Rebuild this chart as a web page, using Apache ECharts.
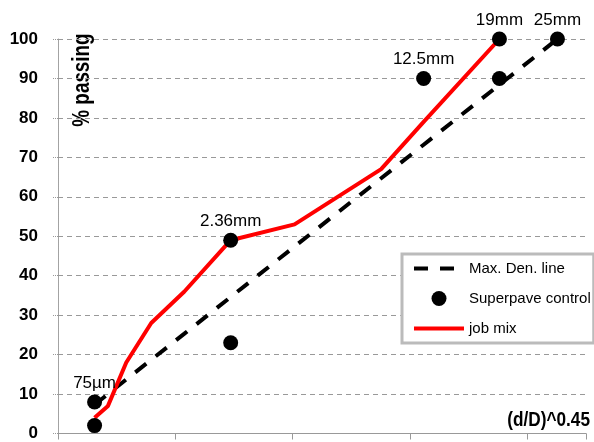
<!DOCTYPE html>
<html>
<head>
<meta charset="utf-8">
<script src="https://cdn.jsdelivr.net/npm/echarts@6/dist/echarts.min.js"></script>
<style>
  html, body { margin: 0; padding: 0; background: #ffffff; }
  #chart { width: 594px; height: 442px; }
</style>
</head>
<body>
<div id="chart"></div>
<script>
    var FONT = '"Liberation Sans", Arial, sans-serif';

    // sieve sizes (mm); the x axis is size^0.45
    var sieveSizes = [0.075, 0.15, 0.3, 0.6, 1.18, 2.36, 4.75, 9.5, 12.5, 19, 25];
    var maxDensityPassing = [7.3, 10.0, 13.7, 18.7, 25.3, 34.6, 47.4, 64.7, 73.2, 88.4, 100];

    var jobMixSieves = [0.075, 0.15, 0.3, 0.6, 1.18, 2.36, 4.75, 9.5, 12.5, 19];
    var jobMixPassing = [4, 7, 18, 28, 36, 49, 53, 67, 79, 100];

    var controlSieves = [0.075, 0.075, 2.36, 2.36, 12.5, 19, 19, 25];
    var controlPassing = [2, 8, 23, 49, 90, 90, 100, 100];
    var controlLabels = ['', '75µm', '', '2.36mm', '12.5mm', '', '19mm', '25mm'];

    var yTicks = [0, 10, 20, 30, 40, 50, 60, 70, 80, 90, 100];

    function gradX(d) {
        return Math.pow(d, 0.45);
    }

    function pairs(sizes, values) {
        var out = [];
        for (var i = 0; i < sizes.length; i++) {
            out.push([gradX(sizes[i]), values[i]]);
        }
        return out;
    }

    var chart = echarts.init(document.getElementById('chart'));

    chart.setOption({
        backgroundColor: '#ffffff',
        animation: false,
        grid: {
            left: 58,
            right: 8,
            top: 39,
            bottom: 3
        },
        xAxis: {
            type: 'value',
            min: 0,
            max: 4.5,
            interval: 1,
            axisLine: { show: true, lineStyle: { color: '#999999', width: 1 } },
            axisTick: { show: true, length: 6, lineStyle: { color: '#999999' } },
            axisLabel: { show: false },
            splitLine: { show: false }
        },
        yAxis: {
            type: 'value',
            min: yTicks[0],
            max: yTicks[yTicks.length - 1],
            interval: 10,
            axisLine: { show: true, lineStyle: { color: '#999999', type: 'dotted', width: 1 } },
            axisTick: { show: true, length: 6, lineStyle: { color: '#999999', type: 'dotted' } },
            axisLabel: {
                color: '#000000',
                fontFamily: FONT,
                fontWeight: 'bold',
                fontSize: 17,
                margin: 20
            },
            splitLine: {
                show: true,
                lineStyle: { color: '#999999', type: [5, 4], width: 1 }
            }
        },
        legend: {
            orient: 'vertical',
            left: 402,
            top: 254,
            padding: [7, 3, 7, 10],
            itemGap: 15,
            itemWidth: 50,
            itemHeight: 15,
            backgroundColor: '#ffffff',
            borderColor: '#bbbbbb',
            borderWidth: 3,
            borderRadius: 0,
            lineStyle: { width: 4 },
            textStyle: { color: '#000000', fontFamily: FONT, fontSize: 15 },
            data: [
                { name: 'Max. Den. line' },
                { name: 'Superpave control', icon: 'circle' },
                { name: 'job mix' }
            ]
        },
        series: [
            {
                name: 'Max. Den. line',
                type: 'line',
                data: pairs(sieveSizes, maxDensityPassing),
                showSymbol: false,
                symbol: 'none',
                z: 2,
                lineStyle: { color: '#000000', width: 4, type: [14, 12], cap: 'butt' },
                itemStyle: { color: '#000000', opacity: 0 }
            },
            {
                name: 'job mix',
                type: 'line',
                data: pairs(jobMixSieves, jobMixPassing),
                showSymbol: false,
                symbol: 'none',
                z: 3,
                lineStyle: { color: '#ff0000', width: 4 },
                itemStyle: { color: '#ff0000', opacity: 0 }
            },
            {
                name: 'Superpave control',
                type: 'scatter',
                data: pairs(controlSieves, controlPassing),
                symbol: 'circle',
                symbolSize: 15,
                z: 4,
                itemStyle: { color: '#000000', opacity: 1 },
                label: {
                    show: true,
                    position: 'top',
                    distance: 3,
                    color: '#000000',
                    fontFamily: FONT,
                    fontSize: 17,
                    formatter: function (p) {
                        return controlLabels[p.dataIndex];
                    }
                }
            }
        ],
        graphic: [
            {
                type: 'text',
                x: 71,
                y: 80,
                rotation: Math.PI / 2,
                scaleX: 0.82,
                style: {
                    text: '% passing',
                    fill: '#000000',
                    font: 'bold 23px ' + FONT,
                    align: 'center',
                    verticalAlign: 'top'
                }
            },
            {
                type: 'text',
                x: 590,
                y: 420,
                scaleX: 0.82,
                style: {
                    text: '(d/D)^0.45',
                    fill: '#000000',
                    font: 'bold 21px ' + FONT,
                    align: 'right',
                    verticalAlign: 'middle'
                }
            }
        ]
    });
</script>
</body>
</html>
